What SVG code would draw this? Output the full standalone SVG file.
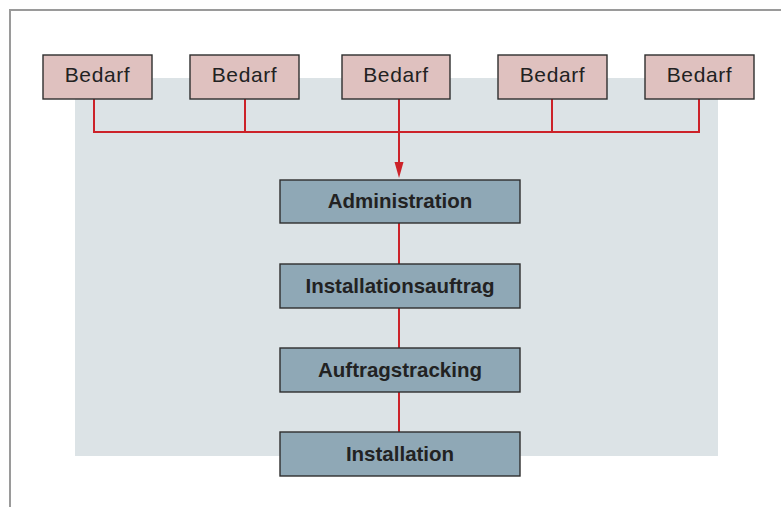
<svg xmlns="http://www.w3.org/2000/svg" width="781" height="507" viewBox="0 0 781 507">
<style>
.need rect{fill:#dfc1bf;stroke:#2e2e2e;stroke-width:1.4}
.step rect{fill:#8fa8b6;stroke:#2e2e2e;stroke-width:1.4}
.need text{font-family:"Liberation Sans",Arial,sans-serif;font-size:21px;fill:#222;text-anchor:middle;letter-spacing:0.6px}
.step text{font-family:"Liberation Sans",Arial,sans-serif;font-size:20.5px;font-weight:bold;fill:#222;text-anchor:middle}
.wire{fill:none;stroke:#cc2229;stroke-width:2}
.head{fill:#cc2229}
</style>
<rect x="0" y="0" width="781" height="507" fill="#fff"/>
<rect x="10" y="10" width="800" height="600" fill="#fff" stroke="#9a9a9a" stroke-width="2"/>
<rect x="75" y="78" width="643" height="378" fill="#dce3e6"/>
<g id="connectors">
<path class="wire" d="M94,99 V132 H699 V99 M245,99 V132 M552,99 V132 M399,99 V132"/>
<path class="wire" d="M399,132 V164"/>
<path class="head" d="M394.5,162 L403.5,162 L399,178 Z"/>
<path class="wire" d="M399,223 V264 M399,308 V348 M399,392 V432"/>
</g>
<g id="bedarf1" class="need"><rect x="43" y="55" width="109" height="44"/><text x="97.5" y="82">Bedarf</text></g>
<g id="bedarf2" class="need"><rect x="190" y="55" width="109" height="44"/><text x="244.5" y="82">Bedarf</text></g>
<g id="bedarf3" class="need"><rect x="342" y="55" width="108" height="44"/><text x="396" y="82">Bedarf</text></g>
<g id="bedarf4" class="need"><rect x="498" y="55" width="109" height="44"/><text x="552.5" y="82">Bedarf</text></g>
<g id="bedarf5" class="need"><rect x="645" y="55" width="109" height="44"/><text x="699.5" y="82">Bedarf</text></g>
<g id="administration" class="step"><rect x="280" y="180" width="240" height="43"/><text x="400" y="208">Administration</text></g>
<g id="installationsauftrag" class="step"><rect x="280" y="264" width="240" height="44"/><text x="400" y="293">Installationsauftrag</text></g>
<g id="auftragstracking" class="step"><rect x="280" y="348" width="240" height="44"/><text x="400" y="377">Auftragstracking</text></g>
<g id="installation" class="step"><rect x="280" y="432" width="240" height="44"/><text x="400" y="461">Installation</text></g>
</svg>
